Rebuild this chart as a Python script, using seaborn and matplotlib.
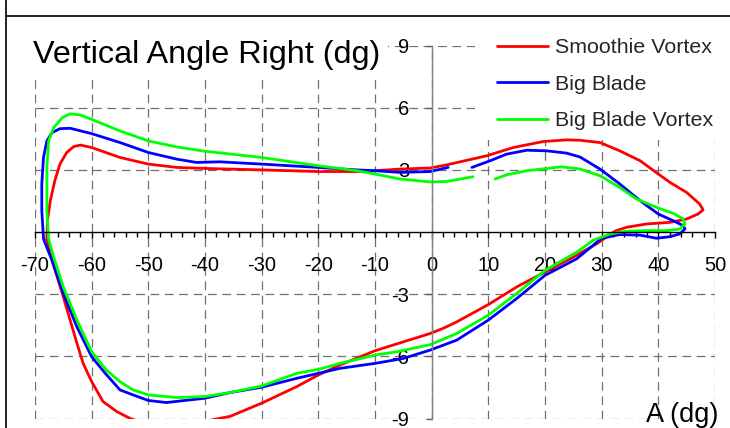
import matplotlib
matplotlib.use("Agg")
import matplotlib.pyplot as plt
from matplotlib.lines import Line2D
from matplotlib.patches import Rectangle
from matplotlib.ticker import MultipleLocator
import pandas as pd
import seaborn as sns

# (A, V) points, in drawing order
smoothie_pts = [(-67.9, -0.33), (-67.8, 0.55), (-67.3, 1.51), (-66.5, 2.48), (-65.6, 3.28),
                (-64.4, 3.84), (-63.2, 4.12), (-62, 4.2), (-60, 4.08), (-55, 3.6), (-50, 3.28),
                (-45, 3.12), (-40, 3.07), (-30, 3.0), (-20, 2.92), (-13.2, 2.92), (-10, 2.96),
                (-5.6, 3.04), (-0.3, 3.09), (2.6, 3.24), (9.7, 3.68), (14.4, 4.08), (19.7, 4.37),
                (23.8, 4.45), (26.2, 4.43), (29.7, 4.32), (33.2, 3.92), (36.8, 3.44), (40, 2.8),
                (42.1, 2.39), (45, 1.91), (47.3, 1.35), (47.9, 1.07), (47.0, 0.87), (45, 0.63),
                (42.1, 0.47), (37.9, 0.39), (34.4, 0.23), (32.4, 0.05), (29.1, -0.57), (25, -1.21),
                (20, -1.93), (15, -2.65), (10, -3.5), (4.4, -4.34), (2.0, -4.65), (-0.3, -4.9),
                (-5, -5.3), (-10, -5.73), (-16.2, -6.42), (-20, -6.9), (-23.8, -7.46),
                (-30, -8.26), (-35.6, -8.9), (-38.5, -9.05), (-42, -9.3), (-47, -9.4),
                (-51, -9.2), (-53.2, -9.0), (-55.6, -8.66), (-58, -8.18), (-60, -7.22),
                (-61.5, -6.34), (-62.6, -5.37), (-65, -3.13), (-66.8, -1.53), (-67.9, -0.33)]

big_blade_pts = [(7.1, 3.12), (10.3, 3.44), (13.2, 3.76), (16.8, 3.95), (20.3, 3.92),
                 (23.8, 3.81), (26.2, 3.62), (29.7, 3.04), (33.2, 2.32), (36.8, 1.51), (40, 0.87),
                 (42.6, 0.55), (44.4, 0.31), (44.7, 0.15), (43.8, -0.09), (42.1, -0.22),
                 (39.7, -0.3), (36.8, -0.15), (33.2, -0.12), (30.0, -0.3), (25.6, -1.29),
                 (20, -2.09), (15, -3.21), (10, -4.25), (4.4, -5.22), (-0.3, -5.7), (-5, -6.1),
                 (-10, -6.34), (-16.2, -6.58), (-20, -6.82), (-23.8, -7.06), (-30, -7.49),
                 (-35.6, -7.75), (-40, -8.02), (-46.8, -8.23), (-50, -8.13), (-52.7, -7.86),
                 (-55, -7.62), (-57.6, -6.82), (-60, -6.02), (-62.6, -4.58), (-65, -2.97),
                 (-67, -1.37), (-68.5, -0.33), (-68.8, 1.03), (-68.8, 2.32), (-68.5, 3.6),
                 (-67.9, 4.4), (-67, 4.8), (-65.6, 4.99), (-63.8, 5.01), (-60, 4.75),
                 (-55, 4.32), (-50, 3.84), (-45, 3.52), (-41.5, 3.36), (-37.4, 3.39),
                 (-30, 3.28), (-20, 3.12), (-13.2, 3.0), (-10, 2.96), (-5.6, 2.88), (-0.3, 2.92),
                 (2.9, 3.12)]

big_blade_vortex_pts = [(11.2, 2.56), (13.2, 2.76), (16.8, 2.96), (20.3, 3.07), (22.9, 3.15),
                        (26.2, 3.04), (29.7, 2.72), (33.2, 2.15), (36.1, 1.6), (40, 1.16),
                        (42.9, 0.87), (44.4, 0.63), (44.7, 0.39), (43.8, 0.15), (41.5, 0.07),
                        (37.9, 0.07), (34.4, 0.04), (31.5, -0.09), (28.5, -0.4), (25.6, -0.97),
                        (20, -1.85), (15, -2.97), (10, -4.01), (4.4, -4.9), (-0.3, -5.44),
                        (-6.2, -5.78), (-10, -5.94), (-16.2, -6.34), (-20, -6.63), (-23.8, -6.82),
                        (-30, -7.43), (-35.6, -7.75), (-40, -7.94), (-45, -7.99), (-50, -7.86),
                        (-52.7, -7.62), (-55, -7.22), (-57.4, -6.66), (-60, -5.78), (-62.6, -4.25),
                        (-65, -2.65), (-66.8, -1.13), (-67.6, -0.33), (-67.9, 1.03), (-67.9, 3.12),
                        (-67.6, 4.4), (-66.7, 5.04), (-65.2, 5.52), (-63.8, 5.71), (-62, 5.65),
                        (-60, 5.44), (-55, 4.88), (-50, 4.4), (-45, 4.11), (-40, 3.9), (-30, 3.6),
                        (-20, 3.2), (-13.2, 2.96), (-10, 2.8), (-5.6, 2.56), (-0.3, 2.42),
                        (2.6, 2.44), (7.3, 2.67)]

series_names = ["Smoothie Vortex", "Big Blade", "Big Blade Vortex"]
series_colors = ["#ff0000", "#0000ff", "#00ff00"]
x_ticks = list(range(-70, 51, 10))
y_ticks = [-9, -6, -3, 3, 6, 9]

rows = []
for name, pts in zip(series_names, [smoothie_pts, big_blade_pts, big_blade_vortex_pts]):
    for a, v in pts:
        rows.append({"A": a, "V": v, "series": name})
df = pd.DataFrame(rows)

sns.set_theme(style="white")
plt.rcParams["font.family"] = ["Liberation Sans", "DejaVu Sans"]
plt.rcParams["axes.unicode_minus"] = False

fig = plt.figure(figsize=(7.3, 4.28), dpi=100)
ax = fig.add_axes([35 / 730, 9.5 / 428, 680 / 730, 372.9 / 428])

sns.lineplot(data=df, x="A", y="V", hue="series", hue_order=series_names,
             palette=series_colors, sort=False, estimator=None, linewidth=2.0,
             legend=False, ax=ax)
for line in ax.lines:
    line.set_solid_joinstyle("round")
    line.set_solid_capstyle("round")

ax.set_xlim(-70, 50)
ax.set_ylim(-9, 9)
ax.set_xticks(x_ticks)
ax.set_xticklabels([str(t) for t in x_ticks])
ax.xaxis.set_minor_locator(MultipleLocator(2))
ax.set_yticks(y_ticks)
ax.set_yticklabels([str(t) for t in y_ticks])
ax.set_xlabel("")
ax.set_ylabel("")

ax.spines["left"].set_position(("data", 0))
ax.spines["bottom"].set_position(("data", 0))
ax.spines["top"].set_visible(False)
ax.spines["right"].set_visible(False)
ax.spines["left"].set_color("#808080")
ax.spines["left"].set_linewidth(1.0)
ax.spines["bottom"].set_color("black")
ax.spines["bottom"].set_linewidth(1.0)

ax.tick_params(axis="x", which="major", direction="out", length=4, width=1,
               color="black", pad=13, labelsize=14.5, labelcolor="black", bottom=True)
ax.tick_params(axis="x", which="minor", direction="out", length=3.5, width=1,
               color="black", bottom=True)
ax.tick_params(axis="y", which="major", direction="out", length=4, width=1,
               color="#606060", pad=12, labelsize=14.5, labelcolor="black", left=True)

ax.set_axisbelow(True)
ax.grid(True, which="major", color="#707070", linewidth=0.9, linestyle=(0, (7, 4.5)))

# white boxes that hide the grid behind the title and the legend
ax.add_patch(Rectangle((0, 0.913), 0.519, 0.2, transform=ax.transAxes,
                       facecolor="white", edgecolor="none", zorder=1))
ax.add_patch(Rectangle((0.647, 0.747), 0.4, 0.3, transform=ax.transAxes,
                       facecolor="white", edgecolor="none", zorder=1))

fig.text(33 / 730, (428 - 63) / 428, "Vertical Angle Right (dg)", ha="left",
         va="baseline", fontsize=23.3, color="black")
fig.text(718 / 730, (428 - 421.7) / 428, "A (dg)", ha="right", va="baseline",
         fontsize=19.5, color="black")

handles = [Line2D([], [], color=c, linewidth=2.0) for c in series_colors]
ax.legend(handles, series_names, loc="upper left", bbox_to_anchor=(497 / 730, (428 - 38) / 428),
          bbox_transform=fig.transFigure, frameon=False, fontsize=15.4, handlelength=2.4,
          handletextpad=0.3, labelspacing=0.82, borderpad=0, borderaxespad=0)

# frame lines of the original chart
fig.add_artist(Line2D([6 / 730, 6 / 730], [0, 1], transform=fig.transFigure,
                      color="black", linewidth=1.2))
fig.add_artist(Line2D([6 / 730, 1], [1 - 15.5 / 428, 1 - 15.5 / 428],
                      transform=fig.transFigure, color="black", linewidth=1.2))

fig.savefig("out.png", dpi=100)
